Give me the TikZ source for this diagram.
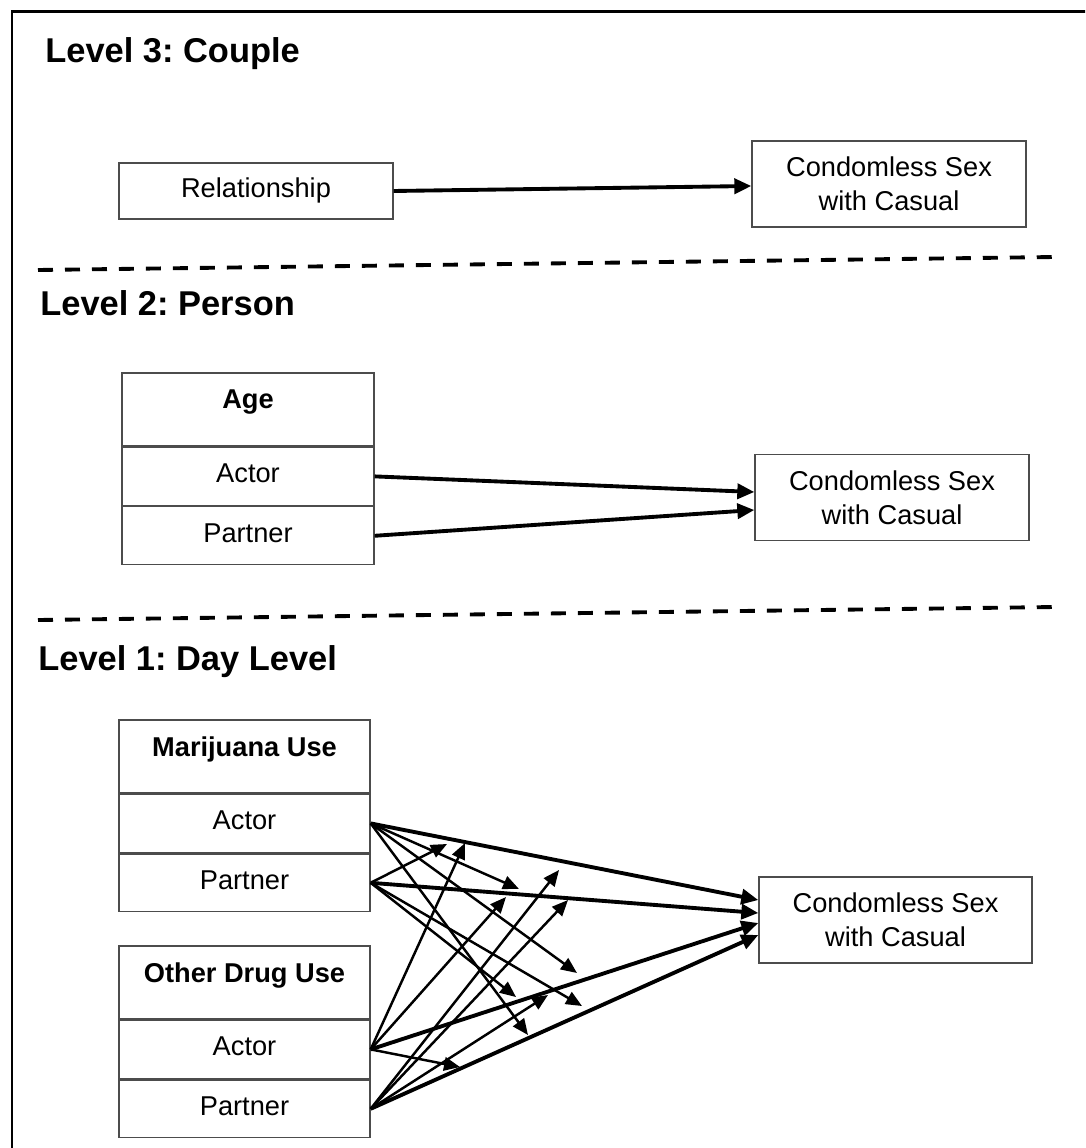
\documentclass[tikz,border=0pt]{standalone}
\usepackage{fontspec}
\setmainfont{Liberation Sans}
\usetikzlibrary{arrows.meta,positioning}
\frenchspacing

\begin{document}
\begin{tikzpicture}[x=0.02cm, y=-0.02cm]
\tikzstyle{box} = [draw=black!70, line width=0.8pt, inner sep=0pt,
  minimum width=5.04cm, minimum height=1.16cm, align=center,
  font=\fontsize{15.5}{19.5}\selectfont]
\tikzstyle{cell} = [box, text height=0.38cm, text depth=0.12cm]
\tikzstyle{head} = [box, minimum height=1.46cm]
\tikzstyle{headtext} = [inner sep=0pt, font=\fontsize{15.5}{18}\selectfont\bfseries]
\tikzstyle{outcome} = [box, minimum width=5.48cm, minimum height=1.72cm]
\tikzstyle{level} = [anchor=base west, inner sep=0pt,
  font=\fontsize{19.6}{23}\selectfont\bfseries]
\tikzstyle{effect} = [-{Triangle[length=0.34cm,width=0.3cm]}, line width=2.2pt]
\tikzstyle{moderator} = [-{Triangle[length=0.32cm,width=0.27cm]}, line width=1.4pt]
\tikzstyle{divider} = [dash pattern=on 0.3cm off 0.24cm, line width=2.2pt]

\useasboundingbox (0,0) rectangle (1085,1148);
\clip (0,0) rectangle (1085,1148);
\draw[line width=1.7pt] (12,1170) |- (1110,12);

\node[level] (lev3) at (45,63) {Level 3: Couple};
\node[cell, minimum width=5.48cm, minimum height=1.12cm] (rel) at (256,191) {Relationship};
\node[outcome] (out3) at (889,184) {Condomless Sex\\with Casual};
\draw[effect] (rel.east) -- ([yshift=-0.04cm]out3.west);

\draw[divider] (38,270) -- (1055,257);

\node[level] (lev2) at (40,316) {Level 2: Person};
\node[head] (agehead) at (248,409.5) {};
\node[headtext] (agelbl) at ([yshift=0.14cm]agehead.center) {Age};
\node[cell, below=0pt of agehead] (ageA) {Actor};
\node[cell, below=0pt of ageA] (ageP) {Partner};
\node[outcome] (out2) at (892,497.5) {Condomless Sex\\with Casual};
\draw[effect] (ageA.east) -- ([yshift=0.11cm]out2.west);
\draw[effect] (ageP.east) -- ([yshift=-0.25cm]out2.west);

\draw[divider] (38,620) -- (1055,607);

\node[level] (lev1) at (38,670) {Level 1: Day Level};
\node[head, minimum width=5.02cm] (mjhead) at (244.5,756.5) {};
\node[headtext] (mjlbl) at ([yshift=0.14cm]mjhead.center) {Marijuana Use};
\node[cell, minimum width=5.02cm, below=0pt of mjhead] (mjA) {Actor};
\node[cell, minimum width=5.02cm, below=0pt of mjA] (mjP) {Partner};
\node[head, minimum width=5.02cm] (odhead) at (244.5,982.5) {};
\node[headtext] (odlbl) at ([yshift=0.14cm]odhead.center) {Other Drug Use};
\node[cell, minimum width=5.02cm, below=0pt of odhead] (odA) {Actor};
\node[cell, minimum width=5.02cm, below=0pt of odA] (odP) {Partner};
\node[outcome, minimum width=5.46cm] (out1) at (895.5,920) {Condomless Sex\\with Casual};

\coordinate (tipmjA) at ([yshift=0.40cm]out1.west);
\coordinate (tipmjP) at ([yshift=0.14cm]out1.west);
\coordinate (tipodA) at ([yshift=-0.06cm]out1.west);
\coordinate (tipodP) at ([yshift=-0.30cm]out1.west);
\draw[effect] (mjA.east) -- (tipmjA);
\draw[effect] (mjP.east) -- (tipmjP);
\draw[effect] (odA.east) -- (tipodA);
\draw[effect] (odP.east) -- (tipodP);

\coordinate (mjAonmjP) at (519,889);
\coordinate (mjAonodA) at (577,973);
\coordinate (mjAonodP) at (528,1035);
\coordinate (mjPonmjA) at (447,844);
\coordinate (mjPonodA) at (516,997);
\coordinate (mjPonodP) at (582,1006);
\coordinate (odAonmjA) at (465,843);
\coordinate (odAonmjP) at (506,897);
\coordinate (odAonodP) at (460,1067);
\coordinate (odPonmjA) at (559,870);
\coordinate (odPonmjP) at (568,900);
\coordinate (odPonodA) at (548,995);
\draw[moderator] (mjA.east) -- (mjAonmjP);
\draw[moderator] (mjA.east) -- (mjAonodA);
\draw[moderator] (mjA.east) -- (mjAonodP);
\draw[moderator] (mjP.east) -- (mjPonmjA);
\draw[moderator] (mjP.east) -- (mjPonodA);
\draw[moderator] (mjP.east) -- (mjPonodP);
\draw[moderator] (odA.east) -- (odAonmjA);
\draw[moderator] (odA.east) -- (odAonmjP);
\draw[moderator] (odA.east) -- (odAonodP);
\draw[moderator] (odP.east) -- (odPonmjA);
\draw[moderator] (odP.east) -- (odPonmjP);
\draw[moderator] (odP.east) -- (odPonodA);
\end{tikzpicture}
\end{document}
